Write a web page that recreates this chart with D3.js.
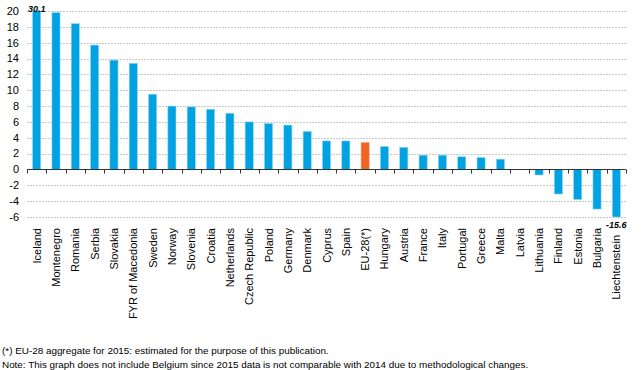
<!DOCTYPE html>
<html>
<head>
<meta charset="utf-8">
<script src="https://cdn.jsdelivr.net/npm/d3@7"></script>
<style>
  body { margin: 0; background: #fff; }
  svg { display: block; font-family: Arial, "Liberation Sans", sans-serif; }
</style>
</head>
<body>
<div id="chart"></div>
<script>
// categories and values (% change 2015 vs 2014)
const countries = ["Iceland", "Montenegro", "Romania", "Serbia", "Slovakia", "FYR of Macedonia",
  "Sweden", "Norway", "Slovenia", "Croatia", "Netherlands", "Czech Republic", "Poland", "Germany",
  "Denmark", "Cyprus", "Spain", "EU-28(*)", "Hungary", "Austria", "France", "Italy", "Portugal",
  "Greece", "Malta", "Latvia", "Lithuania", "Finland", "Estonia", "Bulgaria", "Liechtenstein"];
const values = [30.1, 19.8, 18.4, 15.7, 13.8, 13.4, 9.5, 8.0, 7.9, 7.6, 7.1, 6.0, 5.8, 5.6,
  4.8, 3.6, 3.6, 3.4, 2.9, 2.8, 1.8, 1.8, 1.6, 1.5, 1.3, 0.0, -0.7, -3.1, -3.8, -5.0, -15.6];
const yTicks = [20, 18, 16, 14, 12, 10, 8, 6, 4, 2, 0, -2, -4, -6];
const highlight = "EU-28(*)";
const footnotes = [
  "(*) EU-28 aggregate for 2015: estimated for the purpose of this publication.",
  "Note: This graph does not include Belgium since 2015 data is not comparable with 2014 due to methodological changes."
];

const width = 642, height = 370;
const margin = {top: 11, right: 16, bottom: 153, left: 27};
const yMin = -6, yMax = 20;

const svg = d3.select("#chart").append("svg")
  .attr("width", width)
  .attr("height", height);

const x = d3.scaleBand()
  .domain(countries)
  .range([margin.left, width - margin.right])
  .paddingInner(0.58)
  .paddingOuter(0.29);

const y = d3.scaleLinear()
  .domain([yMin, yMax])
  .range([height - margin.bottom, margin.top])
  .clamp(true);

const val = d => values[countries.indexOf(d)];
const isClipped = d => val(d) > yMax || val(d) < yMin;

// gridlines
svg.append("g")
  .selectAll("line")
  .data(yTicks.filter(d => d !== 0))
  .join("line")
    .attr("x1", margin.left)
    .attr("x2", width - margin.right)
    .attr("y1", d => Math.round(y(d)) + 0.5)
    .attr("y2", d => Math.round(y(d)) + 0.5)
    .attr("stroke", "#c8c8c8")
    .attr("stroke-dasharray", "2,1");

// y tick labels
svg.append("g")
  .selectAll("text")
  .data(yTicks)
  .join("text")
    .attr("x", 19)
    .attr("y", d => y(d))
    .attr("dy", "0.35em")
    .attr("text-anchor", "end")
    .attr("font-size", 11)
    .attr("fill", "#000")
    .text(d => d);

// bars
svg.append("g")
  .selectAll("rect")
  .data(countries)
  .join("rect")
    .attr("x", d => x(d))
    .attr("width", x.bandwidth())
    .attr("y", d => y(Math.max(0, val(d))))
    .attr("height", d => Math.abs(y(val(d)) - y(0)))
    .attr("fill", d => d === highlight ? "#f06423" : "#00a2e1")
    .attr("stroke", d => d === highlight ? "#f7a07c" : "#8fd6f5")
    .attr("stroke-width", 0.6);

// zero axis with ticks between categories
const y0 = Math.round(y(0)) + 0.5;
const axis = svg.append("g").attr("stroke", "#333");
axis.append("line")
  .attr("x1", margin.left).attr("x2", width - margin.right)
  .attr("y1", y0).attr("y2", y0);
const step = x.step();
axis.selectAll("line.tick")
  .data(d3.range(countries.length + 1))
  .join("line")
    .attr("class", "tick")
    .attr("x1", i => Math.round(margin.left + i * step) + 0.5)
    .attr("x2", i => Math.round(margin.left + i * step) + 0.5)
    .attr("y1", y0)
    .attr("y2", y0 + 4);

// category labels, rotated (pushed down under a negative value label)
svg.append("g")
  .selectAll("text")
  .data(countries)
  .join("text")
    .attr("transform", d => `translate(${x(d) + x.bandwidth() / 2 + 4},${height - margin.bottom + 11 + (isClipped(d) && val(d) < 0 ? 7 : 0)}) rotate(-90)`)
    .attr("text-anchor", "end")
    .attr("font-size", 11)
    .attr("fill", "#000")
    .text(d => d);

// value labels for clipped bars
svg.append("g")
  .selectAll("text")
  .data(countries.filter(isClipped))
  .join("text")
    .attr("x", d => x(d) + x.bandwidth() / 2)
    .attr("y", d => val(d) > 0 ? y(yMax) + 1 : y(yMin) + 11)
    .attr("text-anchor", "middle")
    .attr("font-size", 9)
    .attr("font-weight", "bold")
    .attr("font-style", "italic")
    .attr("fill", "#000")
    .text(d => val(d));

// footnotes
svg.append("g")
  .selectAll("text")
  .data(footnotes)
  .join("text")
    .attr("x", 2)
    .attr("y", (d, i) => 354 + i * 14)
    .attr("font-size", 9.9)
    .attr("fill", "#000")
    .text(d => d);
</script>
</body>
</html>
